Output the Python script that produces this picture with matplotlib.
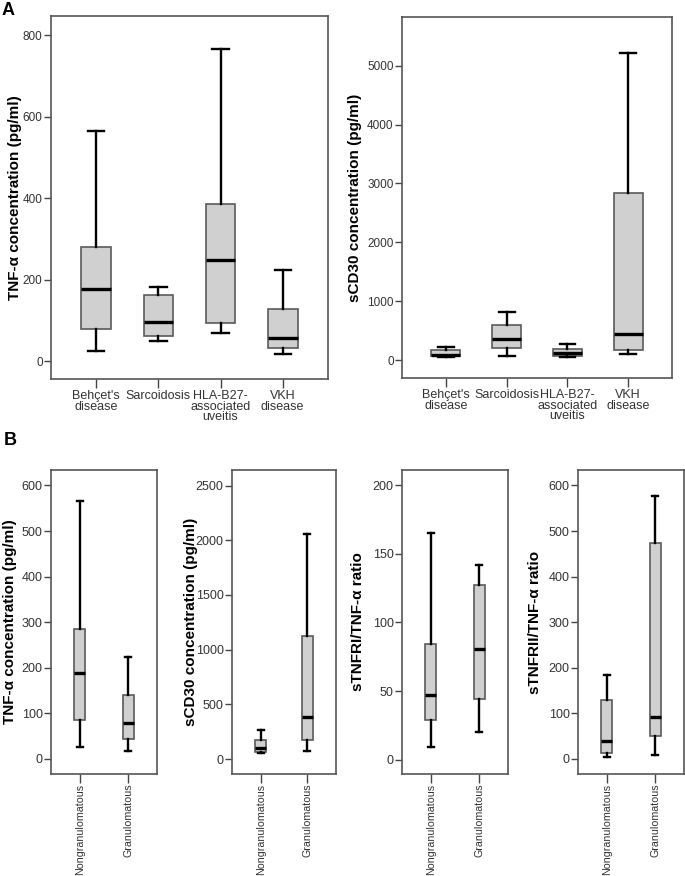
import numpy as np
import matplotlib
matplotlib.use('Agg')
import matplotlib.pyplot as plt

plt.rcParams['font.family'] = ['Liberation Sans', 'DejaVu Sans']

# ---- data ----
groups_a = ["Behçet's\ndisease", 'Sarcoidosis', 'HLA-B27-\nassociated\nuveitis', 'VKH\ndisease']
# whislo, q1, med, q3, whishi
tnf_a = [[25, 79, 178, 279, 564],
         [49, 61, 95, 162, 182],
         [70, 93, 247, 385, 766],
         [17, 33, 56, 129, 223]]
scd30_a = [[55, 70, 95, 175, 220],
           [73, 209, 361, 604, 813],
           [56, 68, 124, 192, 271],
           [102, 181, 440, 2838, 5214]]

groups_b = ['Nongranulomatous', 'Granulomatous']
tnf_b = [[26, 86, 189, 285, 566],
         [17, 44, 79, 140, 224]]
scd30_b = [[55, 61, 97, 177, 268],
           [76, 177, 384, 1121, 2058]]
r1_b = [[9, 29, 47, 84, 165],
        [20, 44, 81, 127, 142]]
r2_b = [[4, 13, 39, 130, 184],
        [9, 50, 91, 473, 577]]

W, H = 685, 876
fig = plt.figure(figsize=(W/100, H/100), dpi=100)

def px_axes(l, t, r, b):
    return fig.add_axes([l/W, 1-b/H, (r-l)/W, (b-t)/H])

def draw(ax, stats, labels, ylabel, ylim, yticks, xlim, width, capw, labx,
         rot=0, xfs=9.0, yfs=8.5, xpad=1.5):
    st = [dict(whislo=s[0], q1=s[1], med=s[2], q3=s[3], whishi=s[4], fliers=[]) for s in stats]
    pos = np.arange(1, len(st)+1)
    ax.bxp(st, positions=pos, widths=width, patch_artist=True, showfliers=False,
           capwidths=capw,
           boxprops=dict(facecolor='#d0d0d0', edgecolor='#5a5a5a', linewidth=1.2),
           medianprops=dict(color='black', linewidth=2.4),
           whiskerprops=dict(color='black', linewidth=1.7),
           capprops=dict(color='black', linewidth=1.7))
    ax.set_xlim(xlim)
    ax.set_ylim(ylim)
    ax.set_yticks(yticks)
    ax.set_xticks(pos)
    ax.set_xticklabels(labels, rotation=rot, fontsize=xfs, color='#333333',
                       linespacing=0.85)
    ax.tick_params(axis='y', labelsize=yfs, labelcolor='#333333', length=5, width=1,
                   color='#444444', pad=1)
    ax.tick_params(axis='x', length=6.5, width=1, color='#444444', pad=xpad)
    ax.set_ylabel(ylabel, fontsize=11, fontweight='bold')
    ax.yaxis.set_label_coords(labx, 0.5)
    for sp in ax.spines.values():
        sp.set_color('#555555')
        sp.set_linewidth(1.2)

ax1 = px_axes(51, 16, 328, 379)
draw(ax1, tnf_a, groups_a, 'TNF-α concentration (pg/ml)', (-44, 847), [0, 200, 400, 600, 800],
     (0.27, 4.73), 0.48, 0.26, -0.105)
ax2 = px_axes(402, 17, 672, 378)
draw(ax2, scd30_a, groups_a, 'sCD30 concentration (pg/ml)', (-299, 5824),
     [0, 1000, 2000, 3000, 4000, 5000], (0.28, 4.72), 0.48, 0.26, -0.148)

kw = dict(rot=90, xfs=7.7, yfs=9, xpad=0.5)
ax3 = px_axes(51, 470, 157, 774)
draw(ax3, tnf_b, groups_b, 'TNF-α concentration (pg/ml)', (-33, 634),
     [0, 100, 200, 300, 400, 500, 600], (0.40, 2.60), 0.23, 0.12, -0.32, **kw)
ax4 = px_axes(232, 470, 336, 774)
draw(ax4, scd30_b, groups_b, 'sCD30 concentration (pg/ml)', (-137, 2643),
     [0, 500, 1000, 1500, 2000, 2500], (0.38, 2.62), 0.23, 0.12, -0.327, **kw)
ax5 = px_axes(402, 470, 508, 774)
draw(ax5, r1_b, groups_b, 'sTNFRI/TNF-α ratio', (-10.4, 211),
     [0, 50, 100, 150, 200], (0.40, 2.60), 0.23, 0.12, -0.35, **kw)
ax6 = px_axes(578, 470, 684, 774)
draw(ax6, r2_b, groups_b, 'sTNFRII/TNF-α ratio', (-33, 634),
     [0, 100, 200, 300, 400, 500, 600], (0.40, 2.60), 0.23, 0.12, -0.34, **kw)

fig.text(2/W, 1-2/H, 'A', fontsize=13, fontweight='bold', va='top', ha='left')
fig.text(4/W, 1-432/H, 'B', fontsize=13, fontweight='bold', va='top', ha='left')

fig.savefig('out.png', dpi=100)
